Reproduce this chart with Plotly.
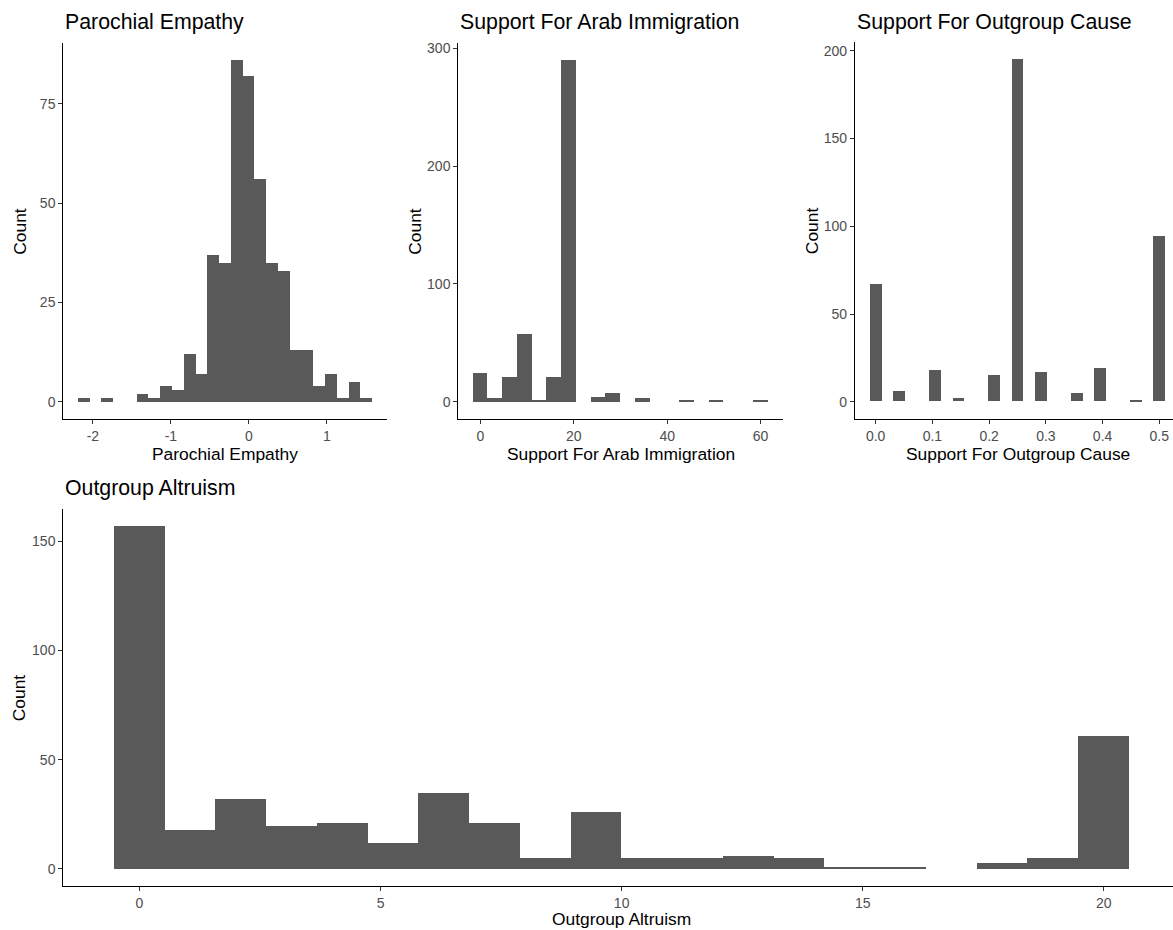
import plotly.graph_objects as go

W, H = 1173, 930
FONT = "Liberation Sans, Arial, sans-serif"
BAR_COLOR = "#595959"

# ---------------- data ----------------
# Parochial Empathy histogram (25 bins)
pe_counts = [1, 0, 1, 0, 0, 2, 1, 4, 3, 12, 7, 37, 35, 86, 82, 56, 35, 33, 13, 13, 4, 7, 1, 5, 1]
pe_first_edge = -2.19
pe_bin_width = 0.151
pe_xticks = [-2, -1, 0, 1]
pe_xticklabels = ["-2", "-1", "0", "1"]
pe_yticks = [0, 25, 50, 75]

# Support For Arab Immigration histogram (20 bins, centred on 0 ... 60)
ai_counts = [25, 3, 21, 58, 1, 21, 290, 0, 4, 8, 0, 3, 0, 0, 1, 0, 1, 0, 0, 2]
ai_first_center = 0.0
ai_bin_width = 60 / 19
ai_xticks = [0, 20, 40, 60]
ai_yticks = [0, 100, 200, 300]

# Support For Outgroup Cause histogram (25 bins, centred on 0 ... 0.5)
oc_counts = [67, 0, 6, 0, 0, 18, 0, 2, 0, 0, 15, 0, 195, 0, 17, 0, 0, 5, 0, 19, 0, 0, 1, 0, 94]
oc_first_center = 0.0
oc_bin_width = 0.5 / 24
oc_xticks = [0.0, 0.1, 0.2, 0.3, 0.4, 0.5]
oc_xticklabels = ["0.0", "0.1", "0.2", "0.3", "0.4", "0.5"]
oc_yticks = [0, 50, 100, 150, 200]

# Outgroup Altruism histogram (20 bins, centred on 0 ... 20)
oa_counts = [157, 18, 32, 20, 21, 12, 35, 21, 5, 26, 5, 5, 6, 5, 1, 1, 0, 3, 5, 61]
oa_first_center = 0.0
oa_bin_width = 20 / 19
oa_xticks = [0, 5, 10, 15, 20]
oa_yticks = [0, 50, 100, 150]

titles = ["Parochial Empathy", "Support For Arab Immigration",
          "Support For Outgroup Cause", "Outgroup Altruism"]
y_title = "Count"

# ---------------- layout geometry (pixels) ----------------
# plot boxes: x0, x1, y0 (top), y1 (bottom)
boxes = [
    (63.3, 387.3, 40.0, 417.3),
    (458.3, 782.7, 40.0, 417.3),
    (855.0, 1180.0, 39.5, 417.3),
    (63.3, 1180.0, 507.3, 886.0),
]


def centers_from_edge(first_edge, w, n):
    return [first_edge + (i + 0.5) * w for i in range(n)]


def centers_from_center(first_center, w, n):
    return [first_center + i * w for i in range(n)]


pe_x = centers_from_edge(pe_first_edge, pe_bin_width, len(pe_counts))
ai_x = centers_from_center(ai_first_center, ai_bin_width, len(ai_counts))
oc_x = centers_from_center(oc_first_center, oc_bin_width, len(oc_counts))
oa_x = centers_from_center(oa_first_center, oa_bin_width, len(oa_counts))

series = [
    (pe_x, pe_counts, pe_bin_width),
    (ai_x, ai_counts, ai_bin_width),
    (oc_x, oc_counts, oc_bin_width),
    (oa_x, oa_counts, oa_bin_width),
]


def expanded(lo, hi, frac=0.05):
    span = hi - lo
    return [lo - frac * span, hi + frac * span]


fig = go.Figure()
for i, (xs, ys, w) in enumerate(series):
    suffix = "" if i == 0 else str(i + 1)
    fig.add_trace(go.Bar(
        x=xs, y=ys, width=w,
        marker=dict(color=BAR_COLOR, line=dict(width=0)),
        xaxis="x" + suffix, yaxis="y" + suffix,
        showlegend=False, hoverinfo="x+y",
    ))

layout = dict(
    width=W, height=H,
    margin=dict(l=0, r=0, t=0, b=0),
    paper_bgcolor="white", plot_bgcolor="white",
    font=dict(family=FONT, color="black"),
    bargap=0,
    showlegend=False,
)

tickfont = dict(family=FONT, size=14, color="#4D4D4D")

xticks_all = [
    (pe_xticks, pe_xticklabels),
    (ai_xticks, [str(v) for v in ai_xticks]),
    (oc_xticks, oc_xticklabels),
    (oa_xticks, [str(v) for v in oa_xticks]),
]
yticks_all = [pe_yticks, ai_yticks, oc_yticks, oa_yticks]

annotations = []
for i, (xs, ys, w) in enumerate(series):
    x0, x1, y0, y1 = boxes[i]
    full_x1 = x1
    lo = xs[0] - w / 2
    hi = xs[-1] + w / 2
    xr = expanded(lo, hi)
    yr = expanded(0, max(ys))
    # clip panels that run past the right edge of the canvas
    if x1 > W:
        scale = (xr[1] - xr[0]) / (x1 - x0)
        xr = [xr[0], xr[0] + (W - x0) * scale]
        x1 = W
    suffix = "" if i == 0 else str(i + 1)
    tv, tt = xticks_all[i]
    axis_common = dict(
        showline=True, linecolor="black", linewidth=1.1,
        ticks="outside", ticklen=4, tickwidth=1, tickcolor="#333333",
        showgrid=False, zeroline=False, tickfont=tickfont, fixedrange=True,
    )
    layout["xaxis" + suffix] = dict(
        domain=[x0 / W, x1 / W], range=xr, anchor="y" + suffix,
        tickmode="array", tickvals=tv, ticktext=tt, **axis_common)
    layout["yaxis" + suffix] = dict(
        domain=[1 - y1 / H, 1 - y0 / H], range=yr, anchor="x" + suffix,
        tickmode="array", tickvals=yticks_all[i],
        ticktext=[str(v) for v in yticks_all[i]], **axis_common)

    # panel title
    annotations.append(dict(
        text=titles[i], xref="paper", yref="paper",
        x=x0 / W, xanchor="left", y=1 - (y0 - 20.5) / H, yanchor="middle",
        showarrow=False, font=dict(family=FONT, size=21.3, color="black")))
    # x axis title (centred on the full, unclipped panel)
    xt_y = 1 - (y1 + 35.5) / H
    xt_anchor = "middle"
    if y1 + 35.5 + 12 > H:  # keep the lowest title inside the canvas
        xt_y, xt_anchor = 0.0, "bottom"
    annotations.append(dict(
        text=titles[i], xref="paper", yref="paper",
        x=((x0 + full_x1) / 2) / W,
        xanchor="center", y=xt_y, yanchor=xt_anchor, borderpad=0,
        showarrow=False, font=dict(family=FONT, size=17.4, color="black")))
    # y axis title
    annotations.append(dict(
        text=y_title, xref="paper", yref="paper",
        x=(x0 - 43.5) / W, xanchor="center", y=1 - ((y0 + y1) / 2) / H,
        yanchor="middle", textangle=-90, showarrow=False,
        font=dict(family=FONT, size=17.4, color="black")))

layout["annotations"] = annotations
fig.update_layout(**layout)

fig.write_html(
    "out.html",
    config={"displayModeBar": False},
    post_script="document.body.style.margin='0';document.body.style.overflow='hidden';",
)
